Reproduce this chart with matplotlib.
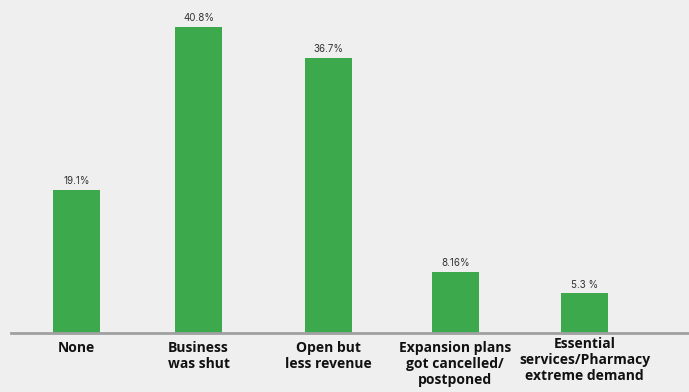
import matplotlib
matplotlib.use('Agg')
import matplotlib.pyplot as plt
import matplotlib.transforms as mtransforms

categories = ['None', 'Business\nwas shut', 'Open but\nless revenue',
              'Expansion plans\ngot cancelled/\npostponed',
              'Essential\nservices/Pharmacy\nextreme demand']
values = [19.1, 40.8, 36.7, 8.16, 5.3]
value_labels = ['19.1%', '40.8%', '36.7%', '8.16%', '5.3 %']

# layout: bar centres as in the source (slightly uneven)
xpos = [0, 0.96, 1.98, 2.98, 4.0]
label_shift = [0, 0, 0, 0, 4]   # px up

bg = '#efefef'
green = '#3caa4c'

fig = plt.figure(figsize=(6.89, 3.92), dpi=100, facecolor=bg)
ax = fig.add_axes([11/689, (392-333)/392, 678/689, 333/392])
ax.set_facecolor(bg)

ax.bar(xpos, values, width=0.37, color=green, zorder=2)
for xi, v, lab in zip(xpos, values, value_labels):
    ax.text(xi, v + 0.5, lab, ha='center', va='bottom', fontsize=7,
            family='Inter', color='#333333')

ax.set_xlim(-0.516, 4.82)
ax.set_ylim(0, 44.4)
for s in ['top', 'right', 'left']:
    ax.spines[s].set_visible(False)
ax.spines['bottom'].set_color('#a0a0a0')
ax.spines['bottom'].set_linewidth(2)
ax.set_yticks([])
ax.set_xticks(xpos)
ax.set_xticklabels(categories, fontsize=10, fontweight='bold', family='Open Sans',
                   color='#111111', linespacing=1.15)
ax.tick_params(axis='x', length=0, pad=6)
for tl, sh in zip(ax.get_xticklabels(), label_shift):
    if sh:
        tl.set_transform(tl.get_transform() +
                         mtransforms.ScaledTranslation(0, sh/100, fig.dpi_scale_trans))

fig.savefig('out.png', dpi=100, facecolor=bg)
